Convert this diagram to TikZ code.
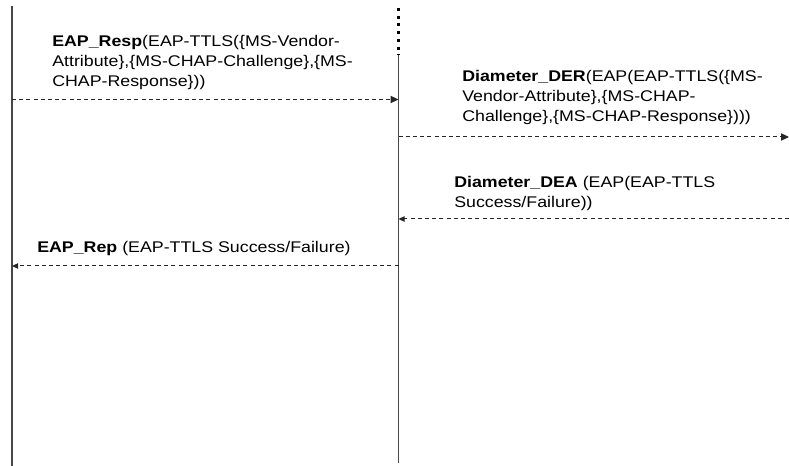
\documentclass[tikz,border=0pt]{standalone}
\usepackage{fontspec}
\setmainfont[FakeStretch=1.15]{Liberation Sans}
\usetikzlibrary{arrows.meta}
\begin{document}
\begin{tikzpicture}[x=0.75pt,y=-0.75pt,
  lifeline/.style={draw=black!72,line width=0.9pt},
  dotline/.style={draw=black,line width=2.2pt,dash pattern=on 2.2pt off 3.6pt},
  msg/.style={draw=black!85,line width=0.75pt,dash pattern=on 3pt off 2.4pt,-{Triangle[length=6pt,width=5.5pt]}},
  msgsmall/.style={draw=black!85,line width=0.75pt,dash pattern=on 3pt off 2.4pt,-{Triangle[length=4.5pt,width=4pt]}},
  lbl/.style={anchor=north west,inner sep=0pt,align=left,font=\fontsize{11.6pt}{15pt}\selectfont}
]
\useasboundingbox (0,0) rectangle (789,466);
% lifelines
\coordinate (Ltop) at (12,6);
\coordinate (Lbot) at (12,466);
\coordinate (Mdot) at (398.5,8);
\coordinate (Mtop) at (398.5,55);
\coordinate (Mbot) at (398.5,463);
\draw[lifeline] (Ltop) -- (Lbot);
\draw[dotline] (Mdot) -- (Mtop);
\draw[lifeline] (Mtop) -- (Mbot);
% message endpoints
\coordinate (a1s) at (12,99.5);
\coordinate (a1e) at (398.5,99.5);
\coordinate (a2s) at (398.5,137);
\coordinate (a2e) at (789,137);
\coordinate (a3s) at (789,219);
\coordinate (a3e) at (398.5,219);
\coordinate (a4s) at (398.5,266);
\coordinate (a4e) at (12,266);
\draw[msg] (a1s) -- (a1e);
\draw[msg] (a2s) -- (a2e);
\draw[msgsmall] (a3s) -- (a3e);
\draw[msgsmall] (a4s) -- (a4e);
% labels
\node[lbl] (t1) at (52,35) {\textbf{EAP\_Resp}(EAP-TTLS(\{MS-Vendor-\\Attribute\},\{MS-CHAP-Challenge\},\{MS-\\CHAP-Response\}))};
\node[lbl] (t2) at (462,70) {\textbf{Diameter\_DER}(EAP(EAP-TTLS(\{MS-\\Vendor-Attribute\},\{MS-CHAP-\\Challenge\},\{MS-CHAP-Response\})))};
\node[lbl] (t3) at (454,176) {\textbf{Diameter\_DEA} (EAP(EAP-TTLS\\Success/Failure))};
\node[lbl] (t4) at (37,241) {\textbf{EAP\_Rep} (EAP-TTLS Success/Failure)};
\end{tikzpicture}
\end{document}
